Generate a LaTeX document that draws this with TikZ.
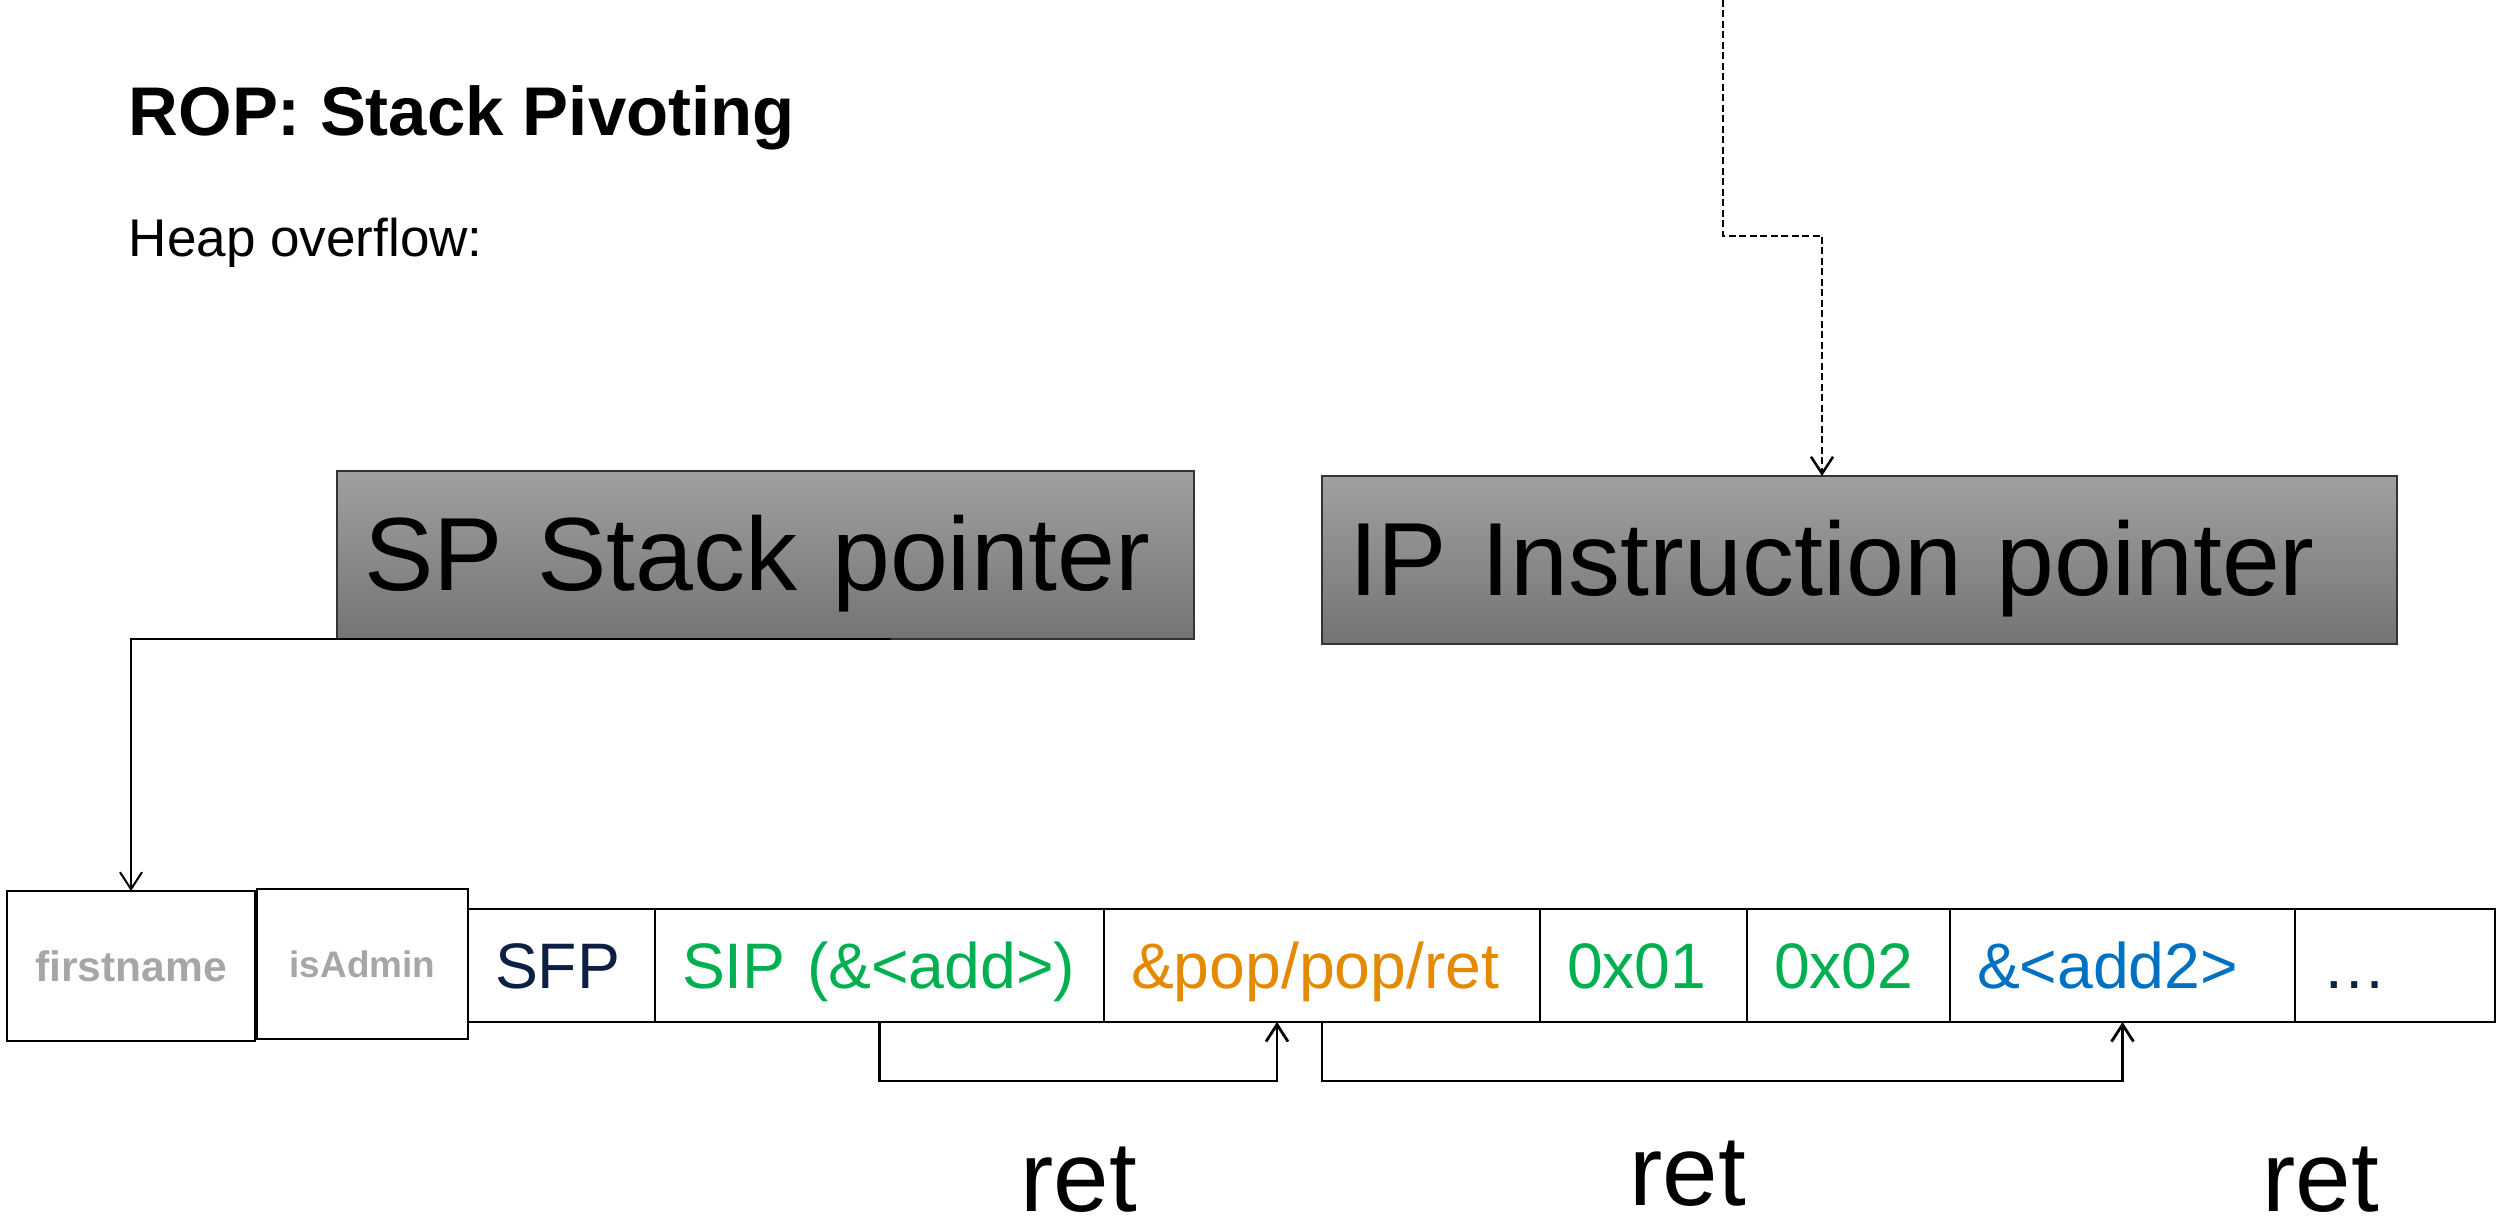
\documentclass[tikz,border=0pt]{standalone}
\usepackage{fontspec}
\setmainfont{Liberation Sans}
\usetikzlibrary{arrows.meta,positioning,calc}
\definecolor{regtop}{HTML}{A0A0A0}
\definecolor{regbot}{HTML}{747474}
\definecolor{fieldgray}{HTML}{A6A6A6}
\definecolor{frameink}{HTML}{0E1F45}
\definecolor{gadget}{HTML}{00B050}
\definecolor{popink}{HTML}{E38A00}
\definecolor{addink}{HTML}{0070C0}

\begin{document}
\begin{tikzpicture}[x=0.1mm,y=-0.1mm,
    reg/.style={draw=black!80,line width=0.15mm,top color=regtop,bottom color=regbot,
                minimum height=16.8mm,text width=#1,inner xsep=2.7mm,align=left,
                font=\fontsize{29.6}{32}\selectfont,text height=20pt,text depth=0pt},
    field/.style={draw,line width=0.25mm,outer sep=0pt,minimum height=15mm,
                  text=fieldgray,inner sep=0pt},
    cell/.style={draw,line width=0.25mm,outer sep=0pt,inner xsep=2.7mm,inner ysep=0pt,
                 text width=#1,align=left,minimum height=11.3mm,
                 font=\fontsize{18.3}{20}\selectfont,text height=13.2pt,text depth=0pt},
    ptr/.style={-{Straight Barb[length=1.7mm,width=2.2mm]},line width=0.2mm},
    retlink/.style={ptr,line width=0.28mm},
    retlabel/.style={anchor=base west,inner sep=0pt,font=\fontsize{28.4}{30}\selectfont}]
  \useasboundingbox (0,0) rectangle (2504,1220);

  % heading
  \node[anchor=base west,inner sep=0pt,font=\bfseries\fontsize{19.6}{24}\selectfont]
       (title) at (128,136) {ROP: Stack Pivoting};
  \node[anchor=base west,inner sep=0pt,font=\fontsize{15.1}{18}\selectfont]
       (heap) at (128,256) {Heap overflow:};

  % registers
  \node[reg=80.3mm] (sp) at (765.5,555) {SP Stack pointer};
  \node[reg=102.1mm] (ip) at (1859.5,560) {IP Instruction pointer};

  % heap chunk and the overflowed stack
  \node[field,minimum width=24.8mm,font=\bfseries\fontsize{12.1}{14}\selectfont]
       (first) at (131,966) {firstname};
  \node[field,minimum width=21.1mm,font=\bfseries\fontsize{10.5}{12}\selectfont,
        right=0.2mm of first,yshift=0.2mm] (admin) {isAdmin};
  \node[cell=13.3mm,text=frameink] (sfp) at (561.5,965.5) {SFP};
  \node[cell=39.5mm,text=gadget,right=0pt of sfp] (sip) {SIP (\&<add>)};
  \node[cell=38.2mm,text=popink,right=0pt of sip] (pop) {\&pop/pop/ret};
  \node[cell=15.3mm,text=gadget,right=0pt of pop] (one) {0x01};
  \node[cell=14.9mm,text=gadget,right=0pt of one] (two) {0x02};
  \node[cell=29.1mm,text=addink,right=0pt of two] (add) {\&<add2>};
  \node[cell=14.6mm,text=frameink,right=0pt of add] (more) {…};

  % pointers
  \coordinate (spend) at (891,639);
  \draw[ptr] (spend) -| (first.north);
  \coordinate (ipsrc) at (1723,0);
  \coordinate (ipbend) at (1723,236);
  \coordinate (ipin) at (1822,476);
  \draw[ptr,line width=0.25mm,dash pattern=on 0.7mm off 0.35mm] (ipsrc) -- (ipbend) -| (ipin);

  % ret chain
  \draw[retlink] (sip.south) -- ++(0,59) -| ([xshift=-4.5mm]pop.south);
  \draw[retlink] (pop.south) -- ++(0,59) -| (add.south);
  \node[retlabel] (ret1) at (1020,1211) {ret};
  \node[retlabel] (ret2) at (1629,1205) {ret};
  \node[retlabel] (ret3) at (2262,1211) {ret};
\end{tikzpicture}
\end{document}
